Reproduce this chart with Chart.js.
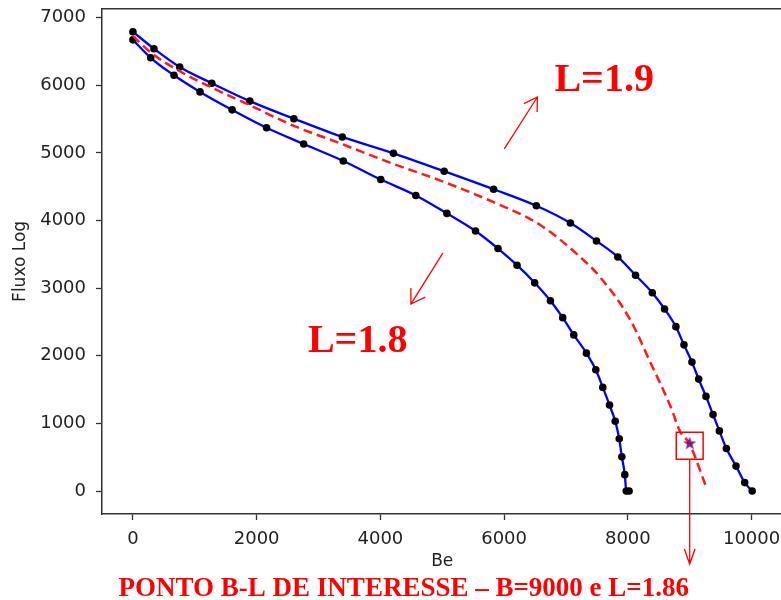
<!DOCTYPE html>
<html>
<head>
<meta charset="utf-8">
<script src="https://cdn.jsdelivr.net/npm/chart.js@4.4.0/dist/chart.umd.min.js"></script>
<style>
  html, body { margin: 0; padding: 0; background: #fff; overflow: hidden; }
  /* canvas is a bit larger than the window: the top/right spines sit where the original crop has them */
  canvas { display: block; position: absolute; left: 0; top: -12px; }
</style>
</head>
<body>
<canvas id="chart" width="803" height="612"></canvas>
<script>
// tick labels
const xTicks = [0, 2000, 4000, 6000, 8000, 10000];
const yTicks = [0, 1000, 2000, 3000, 4000, 5000, 6000, 7000];

// L = 1.9 curve (upper)
const beHigh = [0, 340, 756, 1275, 1890, 2602, 3385, 4211, 5031, 5830, 6521, 7072, 7493, 7838,
  8125, 8395, 8594, 8777, 8907, 9036, 9145, 9263, 9377, 9480, 9593, 9749, 9889, 10010];
const fluxHigh = [6790, 6540, 6270, 6030, 5765, 5505, 5235, 4993, 4728, 4462, 4218, 3962, 3697, 3461,
  3191, 2931, 2691, 2430, 2161, 1906, 1655, 1399, 1130, 889, 629, 368, 124, 0];

// L = 1.8 curve (lower)
const beLow = [0, 287, 664, 1085, 1603, 2160, 2760, 3401, 4006, 4573, 5075, 5538, 5901, 6209,
  6494, 6748, 6947, 7126, 7331, 7482, 7595, 7704, 7796, 7861, 7903, 7951, 7975, 8020];
const fluxLow = [6671, 6406, 6147, 5901, 5636, 5371, 5131, 4880, 4605, 4370, 4105, 3844, 3585, 3339,
  3078, 2813, 2563, 2308, 2038, 1792, 1532, 1272, 1031, 772, 507, 242, 0, 0];

// L = 1.86 (dashed, between)
const beMid = [0, 300, 750, 1275, 1900, 2600, 3350, 4200, 4970, 5830, 6590, 7230, 7550, 8040,
  8370, 8690, 8850, 8990, 9270];
const fluxMid = [6730, 6475, 6210, 5965, 5700, 5400, 5140, 4840, 4590, 4270, 3930, 3460, 3165, 2530,
  1890, 1250, 870, 710, 50];

// point of interest B=9000
const starBe = [9000];
const starFlux = [700];
const boxFlux = [670];

const toXY = (xs, ys) => xs.map((v, i) => ({ x: v, y: ys[i] }));

function starImage(size, color) {
  const c = document.createElement('canvas');
  c.width = c.height = size;
  const g = c.getContext('2d');
  g.fillStyle = color;
  g.beginPath();
  for (let i = 0; i < 10; i++) {
    const r = i % 2 ? size * 0.2 : size / 2;
    const a = -Math.PI / 2 + i * Math.PI / 5;
    g.lineTo(size / 2 + r * Math.cos(a), size / 2 + r * Math.sin(a));
  }
  g.closePath();
  g.fill();
  return c;
}

function arrow(ctx, x0, y0, x1, y1, len, ang) {
  const a = Math.atan2(y1 - y0, x1 - x0);
  ctx.beginPath();
  ctx.moveTo(x0, y0);
  ctx.lineTo(x1, y1);
  ctx.moveTo(x1 - len * Math.cos(a - ang), y1 - len * Math.sin(a - ang));
  ctx.lineTo(x1, y1);
  ctx.lineTo(x1 - len * Math.cos(a + ang), y1 - len * Math.sin(a + ang));
  ctx.stroke();
}

const BOX_RADIUS = 19;

const annotate = {
  id: 'annotate',
  afterDraw(chart) {
    const { ctx, chartArea: a, scales: { x, y } } = chart;
    ctx.save();
    // top + right spines
    ctx.strokeStyle = '#333';
    ctx.lineWidth = 1.5;
    ctx.beginPath();
    ctx.moveTo(a.left, a.top);
    ctx.lineTo(a.right, a.top);
    ctx.lineTo(a.right, a.bottom);
    ctx.stroke();

    ctx.strokeStyle = '#ff0000';
    ctx.fillStyle = '#ff0000';
    ctx.lineWidth = 1.3;
    // arrows toward the curves
    arrow(ctx, x.getPixelForValue(6003), y.getPixelForValue(5060),
      x.getPixelForValue(6538), y.getPixelForValue(5826), 15, 0.55);
    arrow(ctx, x.getPixelForValue(5011), y.getPixelForValue(3520),
      x.getPixelForValue(4493), y.getPixelForValue(2764), 16, 0.56);
    // arrow down from the box
    const bx = x.getPixelForValue(starBe[0]);
    const boxBottom = y.getPixelForValue(boxFlux[0]) + BOX_RADIUS * Math.SQRT1_2;
    arrow(ctx, bx, boxBottom, bx, y.getPixelForValue(-1080), 16, 0.34);

    ctx.textBaseline = 'alphabetic';
    ctx.textAlign = 'left';
    ctx.font = 'bold 40px "Liberation Serif"';
    ctx.fillText('L=1.9', x.getPixelForValue(6813), y.getPixelForValue(5916));
    ctx.fillText('L=1.8', x.getPixelForValue(2829), y.getPixelForValue(2057));
    ctx.font = 'bold 27px "Liberation Serif"';
    ctx.fillText('PONTO B-L DE INTERESSE \u2013 B=9000 e L=1.86', x.getPixelForValue(-232), a.bottom + 82);
    ctx.restore();
  }
};

const axisColor = '#333';
const textColor = '#222';
const plain = v => String(v);

new Chart(document.getElementById('chart'), {
  type: 'line',
  data: {
    datasets: [
      {
        data: toXY(starBe, starFlux),
        showLine: false,
        pointStyle: starImage(14, '#7a1c86'),
        pointRadius: 7
      },
      {
        data: toXY(starBe, boxFlux),
        showLine: false,
        pointStyle: 'rect',
        pointRadius: BOX_RADIUS,
        pointBackgroundColor: 'rgba(0,0,0,0)',
        pointBorderColor: '#ff0000',
        pointBorderWidth: 1.5
      },
      {
        data: toXY(beMid, fluxMid),
        borderColor: '#ff1a1a',
        borderWidth: 2.5,
        borderDash: [9, 5],
        pointRadius: 0,
        cubicInterpolationMode: 'monotone'
      },
      {
        data: toXY(beHigh, fluxHigh),
        borderColor: '#0000ff',
        borderWidth: 2.3,
        pointRadius: 3.8,
        pointBackgroundColor: '#000',
        pointBorderWidth: 0,
        cubicInterpolationMode: 'monotone'
      },
      {
        data: toXY(beLow, fluxLow),
        borderColor: '#0000ff',
        borderWidth: 2.3,
        pointRadius: 3.8,
        pointBackgroundColor: '#000',
        pointBorderWidth: 0,
        cubicInterpolationMode: 'monotone'
      }
    ]
  },
  options: {
    responsive: false,
    animation: false,
    clip: false,
    layout: { padding: { left: 0, top: 8, right: 15, bottom: 28 } },
    plugins: { legend: { display: false }, tooltip: { enabled: false } },
    scales: {
      x: {
        type: 'linear',
        min: -500,
        max: 10500,
        afterFit: s => { s.height = 58; },
        afterBuildTicks: s => { s.ticks = xTicks.map(v => ({ value: v })); },
        grid: { drawOnChartArea: false, drawTicks: true, tickLength: 6, tickColor: axisColor, tickWidth: 1.3 },
        border: { display: true, color: axisColor, width: 1.5 },
        ticks: { color: textColor, font: { family: 'DejaVu Sans', size: 18 }, padding: 9, maxRotation: 0, callback: plain },
        title: { display: true, text: 'Be', color: textColor, font: { family: 'DejaVu Sans', size: 17 }, padding: 0 }
      },
      y: {
        type: 'linear',
        min: -340,
        max: 7130,
        afterFit: s => { s.width = 102; },
        afterBuildTicks: s => { s.ticks = yTicks.map(v => ({ value: v })); },
        grid: { drawOnChartArea: false, drawTicks: true, tickLength: 6, tickColor: axisColor, tickWidth: 1.3 },
        border: { display: true, color: axisColor, width: 1.5 },
        ticks: { color: textColor, font: { family: 'DejaVu Sans', size: 18 }, padding: 10, callback: plain },
        title: { display: true, text: 'Fluxo Log', color: textColor, font: { family: 'DejaVu Sans', size: 17 }, padding: { top: 10, bottom: 0 } }
      }
    }
  },
  plugins: [annotate]
});
</script>
</body>
</html>
